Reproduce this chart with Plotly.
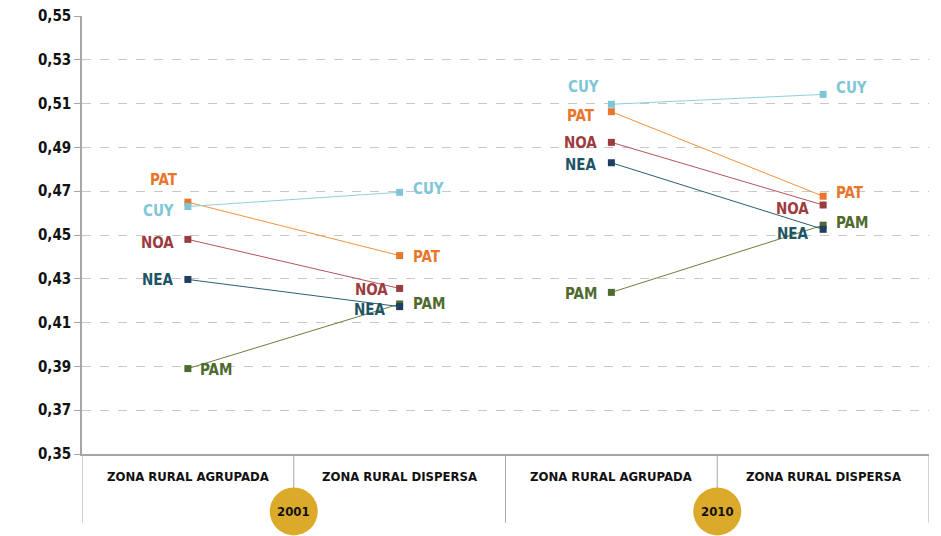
import plotly.graph_objects as go

categories = ["ZONA RURAL AGRUPADA", "ZONA RURAL DISPERSA", "ZONA RURAL AGRUPADA", "ZONA RURAL DISPERSA"]
years = ["2001", "2010"]
regions = ["CUY", "PAT", "NOA", "NEA", "PAM"]
# values per region: [2001 agrupada, 2001 dispersa, 2010 agrupada, 2010 dispersa]
CUY = [0.463, 0.4695, 0.5097, 0.5142]
PAT = [0.465, 0.4406, 0.5063, 0.4677]
NOA = [0.448, 0.4256, 0.4923, 0.4637]
NEA = [0.4297, 0.4173, 0.4830, 0.4526]
PAM = [0.3890, 0.4185, 0.4238, 0.4545]
yticks = [0.35, 0.37, 0.39, 0.41, 0.43, 0.45, 0.47, 0.49, 0.51, 0.53, 0.55]

series = {"CUY": CUY, "PAT": PAT, "NOA": NOA, "NEA": NEA, "PAM": PAM}
line_colors = {"CUY": "#8fcfdc", "PAT": "#f3923e", "NOA": "#b5565a", "NEA": "#2a5f73", "PAM": "#6b7f3e"}
marker_colors = {"CUY": "#7ec6d6", "PAT": "#e8772b", "NOA": "#9c3b40", "NEA": "#1f3f5f", "PAM": "#4e6a2e"}
label_colors = {"CUY": "#7ec6d6", "PAT": "#e8772b", "NOA": "#9c3b40", "NEA": "#1e5566", "PAM": "#4e6a2e"}

FONT = "DejaVu Sans Condensed, Liberation Sans Narrow, sans-serif"

fig = go.Figure()
xs = [0, 1, None, 2, 3]
for name in ["PAM", "NEA", "NOA", "PAT", "CUY"]:
    v = series[name]
    ys = [v[0], v[1], None, v[2], v[3]]
    fig.add_trace(go.Scatter(
        x=xs, y=ys, mode="lines+markers", name=name, connectgaps=False,
        line=dict(color=line_colors[name], width=1),
        marker=dict(symbol="square", size=7, color=marker_colors[name]),
        showlegend=False, hoverinfo="skip",
    ))

# label placement: (side, xshift, yshift) per point index
placement = {
    "CUY": [("l", -12, -4), ("r", 11, 3), ("l", -10, 17), ("r", 11, 6)],
    "PAT": [("c", -24, 22), ("r", 11, -1), ("l", -14, -4), ("r", 11, 3)],
    "NOA": [("l", -12, -4), ("l", -10, -2), ("l", -12, -1), ("l", -12, -4)],
    "NEA": [("l", -12, -1), ("l", -12, -3), ("l", -12, -2), ("l", -12, -5)],
    "PAM": [("r", 10, -1), ("r", 11, 0), ("l", -12, -2), ("r", 11, 2)],
}
anchor = {"l": "right", "r": "left", "c": "center"}
for name, v in series.items():
    for i, val in enumerate(v):
        side, dx, dy = placement[name][i]
        fig.add_annotation(
            x=i, y=val, text=name, showarrow=False,
            xanchor=anchor[side], yanchor="middle", xshift=dx, yshift=dy,
            font=dict(family=FONT, size=15, color=label_colors[name], weight="bold"),
        )

# category labels
for i, c in enumerate(categories):
    fig.add_annotation(
        x=i, y=-0.052, xref="x", yref="paper", text=c, showarrow=False,
        xanchor="center", yanchor="middle",
        font=dict(family=FONT, size=13, color="#111111", weight="bold"),
    )

# bottom frame lines
grey = "#a6a6a6"
for xb, ylow in [(-0.5, -0.157), (0.5, -0.078), (1.5, -0.157), (2.5, -0.078), (3.5, -0.157)]:
    fig.add_shape(type="line", xref="x", yref="paper", x0=xb, x1=xb, y0=0, y1=ylow,
                  line=dict(color=grey, width=1))

# year circles
for xc, yr in [(0.5, years[0]), (2.5, years[1])]:
    fig.add_shape(type="circle", xref="x", yref="paper", xsizemode="pixel", ysizemode="pixel",
                  xanchor=xc, yanchor=-0.131, x0=-24, x1=24, y0=-24, y1=24,
                  fillcolor="#dcaa2a", line=dict(width=0))
    fig.add_annotation(x=xc, y=-0.131, xref="x", yref="paper", text=yr, showarrow=False,
                       xanchor="center", yanchor="middle",
                       font=dict(family=FONT, size=13, color="#111111", weight="bold"))

fig.update_layout(
    width=941, height=536, autosize=False,
    margin=dict(l=82, r=12, t=16, b=82, pad=0),
    paper_bgcolor="white", plot_bgcolor="white",
    font=dict(family=FONT),
)
fig.update_xaxes(range=[-0.5, 3.5], showgrid=False, showticklabels=False, zeroline=False,
                 showline=True, linecolor=grey, linewidth=1.5, ticks="", automargin=False)
fig.update_yaxes(range=[0.35, 0.55], tickvals=yticks,
                 ticktext=[f"{t:.2f}".replace(".", ",") for t in yticks],
                 showgrid=True, gridcolor="#c8c8c8", griddash="dash", gridwidth=1,
                 zeroline=False, showline=True, linecolor=grey, linewidth=1.5,
                 ticks="outside", ticklen=6, tickcolor=grey, automargin=False,
                 tickfont=dict(family=FONT, size=15, color="#111111", weight="bold"))

fig.write_html("out.html", config={"displayModeBar": False},
               post_script="document.body.style.margin='0';document.body.style.overflow='hidden';")
